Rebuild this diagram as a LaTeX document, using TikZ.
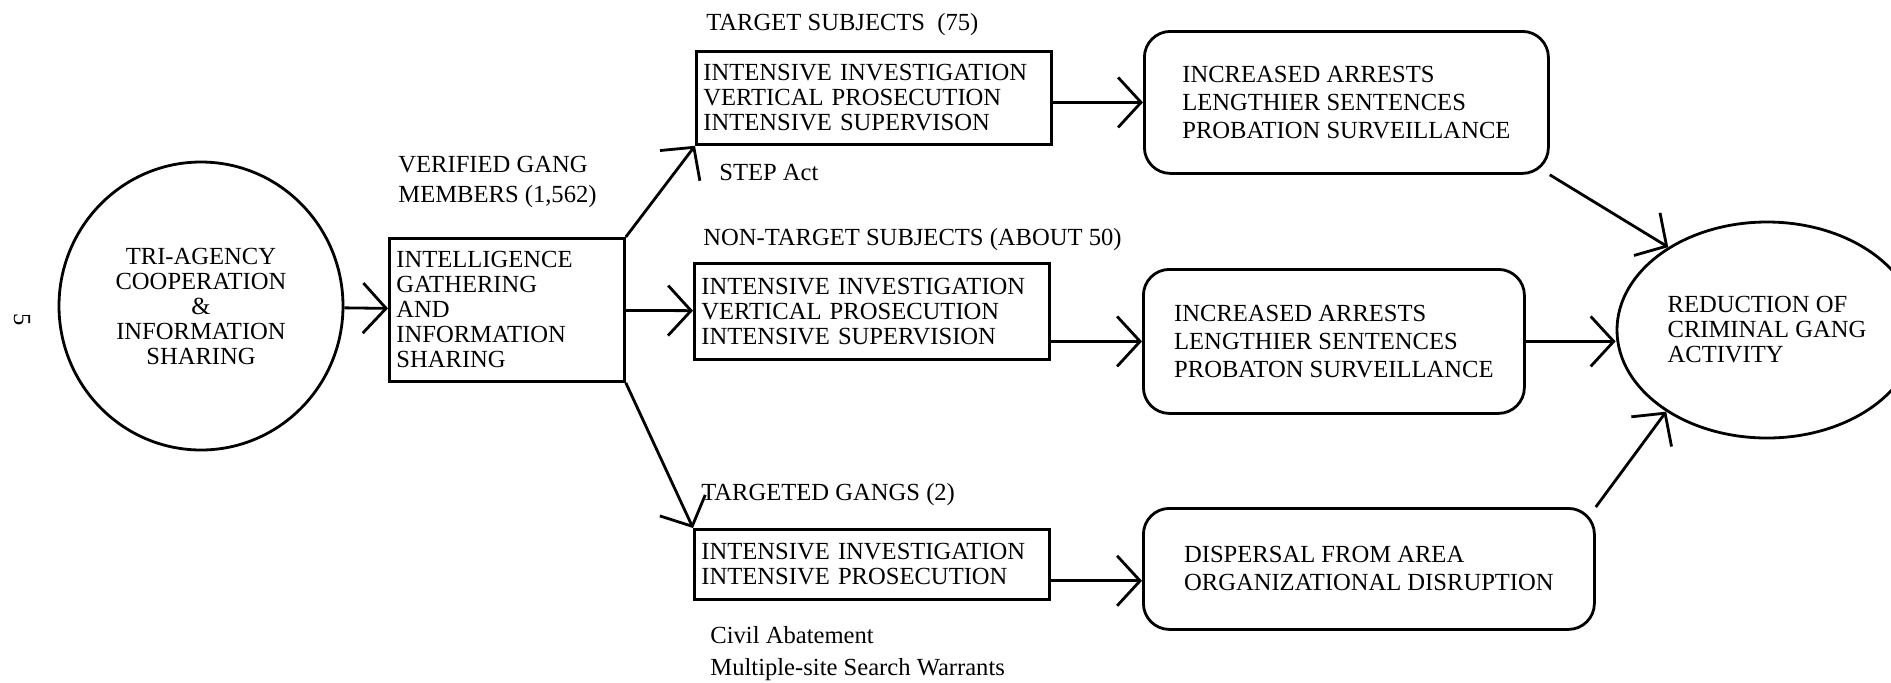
\documentclass[tikz,border=0pt]{standalone}
\usepackage{fontspec}
\setmainfont{Liberation Serif}
\usetikzlibrary{shapes.geometric,arrows.meta}

\begin{document}
\begin{tikzpicture}[x=0.5pt,y=-0.5pt,line width=1.4pt,
		font=\fontsize{12.3}{12.5}\selectfont]

			\tikzstyle{agency}=[draw=black,ellipse,
				align=center,inner sep=0pt]
			\tikzstyle{activity}=[draw=black,rectangle,anchor=north west,
				inner xsep=3.5pt,inner ysep=0pt,
				align=left]
			\tikzstyle{result}=[draw=black,rectangle,rounded corners=13pt,
				anchor=north west,inner sep=0pt,
				font=\fontsize{12.3}{14}\selectfont,
				align=left]
			\tikzstyle{note}=[anchor=west,inner sep=0pt,align=left]
			\tikzstyle{flow}=[-{Straight Barb[length=11.5pt,width=25pt]}]

			\useasboundingbox (0,0) rectangle (1891,682);

			\node[rotate=-90]	(pg)	at (22,320)	{5};

			\node[agency,minimum width=142pt,minimum height=144pt]	(tri)	at (201,306)
				{TRI-AGENCY\\COOPERATION\\\&\\INFORMATION\\SHARING};
			\node[activity,text width=110.5pt,minimum height=71.5pt]	(intel)	at (388,237)
				{INTELLIGENCE\\GATHERING\\AND\\INFORMATION\\SHARING};
			\node[note]	(vgm)	at (397,182)	{VERIFIED GANG\\[2.5pt]MEMBERS (1,562)};

			% three groups of subjects
			\node[activity,text width=170.5pt,minimum height=46.5pt]	(ts)	at (695,50)
				{INTENSIVE INVESTIGATION\\VERTICAL PROSECUTION\\INTENSIVE SUPERVISON};
			\node[activity,text width=170.5pt,minimum height=48pt]	(nts)	at (693,262)
				{INTENSIVE INVESTIGATION\\VERTICAL PROSECUTION\\INTENSIVE SUPERVISION};
			\node[activity,text width=170.5pt,minimum height=35pt]	(tg)	at (693,528)
				{INTENSIVE INVESTIGATION\\INTENSIVE PROSECUTION};

			\node[note]	(tsl)	at (705,25)	{TARGET SUBJECTS~~(75)};
			\node[note]	(step)	at (718,172)	{STEP Act};
			\node[note]	(ntsl)	at (702,240)	{NON-TARGET SUBJECTS (ABOUT 50)};
			\node[note]	(tgl)	at (700,495)	{TARGETED GANGS (2)};
			\node[note]	(civ)	at (709,654)	{Civil Abatement\\[3.5pt]Multiple-site Search Warrants};

			% results
			\node[result,minimum width=202pt,minimum height=71pt]	(res1)	at (1143,30)
				{INCREASED ARRESTS\\LENGTHIER SENTENCES\\PROBATION SURVEILLANCE};
			\node[result,minimum width=190.5pt,minimum height=72pt]	(res2)	at (1142,268)
				{INCREASED ARRESTS\\LENGTHIER SENTENCES\\PROBATON SURVEILLANCE};
			\node[result,minimum width=225.5pt,minimum height=60.5pt]	(res3)	at (1142,507)
				{DISPERSAL FROM AREA\\ORGANIZATIONAL DISRUPTION};

			\node[agency,align=left,minimum width=150pt,minimum height=108pt]	(red)	at (1767,330)
				{REDUCTION OF\\CRIMINAL GANG\\ACTIVITY};

			% connectors
			\draw[flow] (tri) -- (intel);
			\draw[flow] (intel.north east) -- (ts.south west);
			\draw[flow] (intel) -- (nts);
			\draw[flow] (intel.south east) -- (tg.north west);
			\draw[flow] (ts.east |- res1.west) -- (res1.west);
			\draw[flow] (nts.east |- res2.west) -- (res2.west);
			\draw[flow] (tg.east |- res3.183) -- (res3.183);
			\draw[flow] (res1.south east) -- (red.140);
			\draw[flow] (res2.east) -- (res2.east -| red.west);
			\draw[flow] (res3.north east) -- (red.219);

		\end{tikzpicture}
\end{document}
